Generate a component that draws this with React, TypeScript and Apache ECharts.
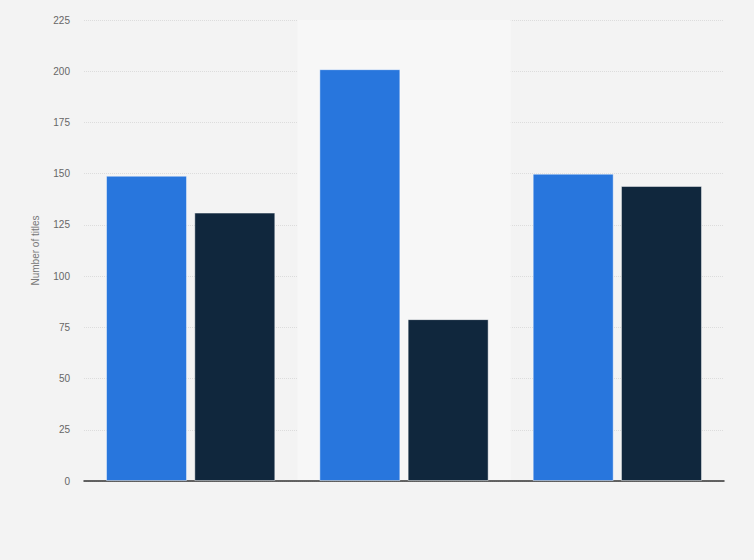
import React, { useEffect, useRef } from "react";
import * as echarts from "echarts";

// chart values
const categories = ["Group A", "Group B", "Group C"];
const seriesOne = [149, 201, 150];
const seriesTwo = [131, 79, 144];
const yTicks = { min: 0, max: 225, interval: 25 };

const App: React.FC = () => {
  const chartRef = useRef<HTMLDivElement>(null);

  useEffect(() => {
    document.body.style.margin = "0";
    const chart = echarts.init(chartRef.current!, null, { renderer: "svg" });

    chart.setOption({
      animation: false,
      backgroundColor: "#f3f3f3",
      grid: { left: 84, right: 30, top: 20, bottom: 79 },
      xAxis: {
        type: "category",
        data: categories,
        axisLine: { lineStyle: { color: "#333", width: 1.5 } },
        axisTick: { show: false },
        axisLabel: { show: false },
        splitArea: {
          show: true,
          areaStyle: { color: ["rgba(0,0,0,0)", "#f7f7f7"] },
        },
      },
      yAxis: {
        type: "value",
        min: yTicks.min,
        max: yTicks.max,
        interval: yTicks.interval,
        name: "Number of titles",
        nameLocation: "middle",
        nameGap: 44,
        nameTextStyle: { color: "#777", fontSize: 10, fontFamily: "Arial, Liberation Sans" },
        axisLine: { show: false },
        axisTick: { show: false },
        axisLabel: { color: "#666", fontSize: 10, margin: 14, fontFamily: "Arial, Liberation Sans" },
        splitLine: { lineStyle: { color: "#dcdcdc", type: "dotted" } },
      },
      series: [
        {
          type: "bar",
          data: seriesOne,
          barWidth: 81,
          barGap: "9%",
          itemStyle: { color: "#2876dd", borderColor: "rgba(255,255,255,0.45)", borderWidth: 1 },
        },
        {
          type: "bar",
          data: seriesTwo,
          barWidth: 81,
          itemStyle: { color: "#10273d", borderColor: "rgba(255,255,255,0.45)", borderWidth: 1 },
        },
      ],
    });

    return () => {
      chart.dispose();
    };
  }, []);

  return <div ref={chartRef} style={{ width: 754, height: 560 }} />;
};

export default App;
